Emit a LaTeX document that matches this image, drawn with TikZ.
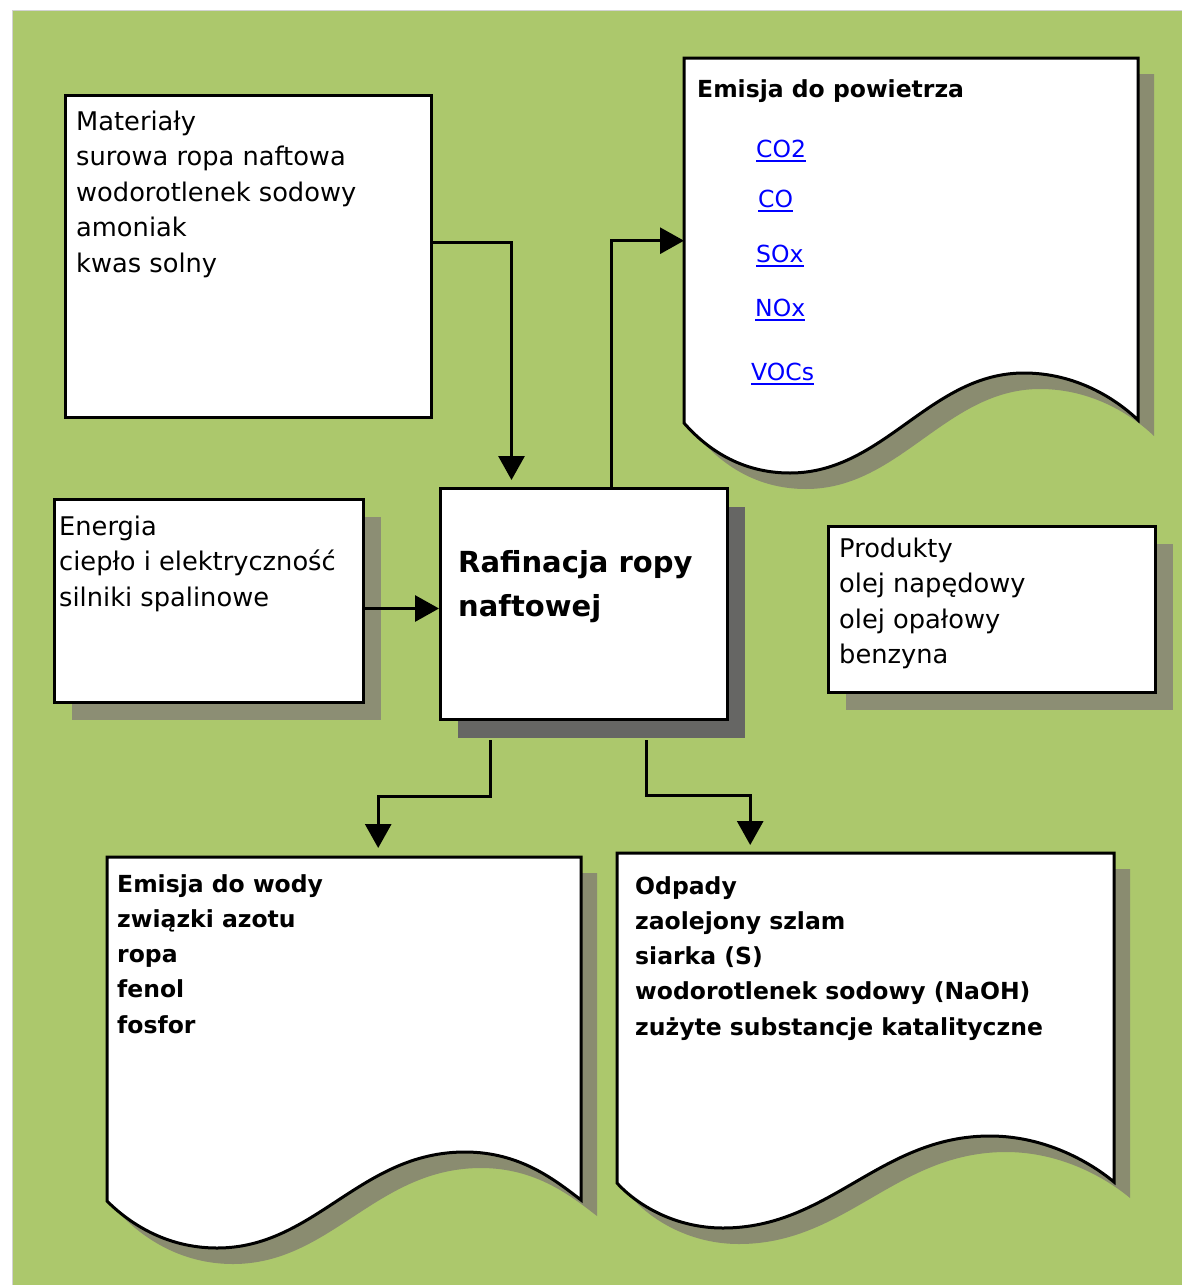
\documentclass[tikz,border=0pt]{standalone}
\usepackage{fontspec}
\setmainfont{DejaVu Sans}
\usetikzlibrary{arrows.meta,shadows}

\definecolor{meadow}{RGB}{172,200,108}
\definecolor{docshade}{RGB}{138,140,112}
\definecolor{boxshade}{RGB}{140,142,116}
\definecolor{coreshade}{RGB}{102,102,100}
\definecolor{linkblue}{RGB}{0,0,255}

\newcommand\regtext{\fontsize{25.7pt}{35.5pt}\selectfont}
\newcommand\boldtext{\fontsize{23.5pt}{35.3pt}\selectfont\bfseries}
\newcommand\titletext{\fontsize{29pt}{44pt}\selectfont\bfseries}
\newcommand\hreftext{\fontsize{23.5pt}{28pt}\selectfont}
% underlined hyperlink-like label
\newcommand\linktext[1]{\setbox0=\hbox{#1}\rlap{\rule[-4.5pt]{\wd0}{2pt}}\box0}
% left-aligned block whose reference point is the first baseline
\newcommand\textlines[1]{\begin{tabular}[t]{@{}l@{}}#1\end{tabular}}

\tikzset{
  box/.style={draw=black, fill=white, line width=3pt, inner sep=0pt, anchor=north west},
  castshadow/.style={drop shadow={shadow xshift=17pt, shadow yshift=-17pt, fill=#1, opacity=1}},
  docframe/.style={inner sep=0pt, anchor=north west, draw=none},
  docshadow/.style={fill=docshade, draw=none},
  docpaper/.style={fill=white, draw=black, line width=3pt, line join=miter},
  flow/.style={line width=3pt, -{Triangle[width=26pt,length=24pt]}},
  regular/.style={anchor=base west, inner sep=0pt, font=\regtext},
  boldline/.style={anchor=base west, inner sep=0pt, font=\boldtext},
  title/.style={anchor=base west, inner sep=0pt, font=\titletext},
  link/.style={anchor=base west, inner sep=0pt, font=\hreftext, text=linkblue},
}

\begin{document}
\begin{tikzpicture}[x=1pt, y=-1pt]
\useasboundingbox (0,0) rectangle (1182,1285);
\fill[white] (0,0) rectangle (1182,1285);
\fill[meadow] (12,10) rectangle (1182,1285);
\draw[gray!35, line width=1pt] (12,1285) -- (12,10) -- (1182,10);

% plain boxes
\node[box, minimum width=366pt, minimum height=322pt] (mat) at (64,94) {};
\node[box, castshadow=boxshade, minimum width=309pt, minimum height=203pt] (en) at (53,498) {};
\node[box, drop shadow={shadow xshift=17pt, shadow yshift=-18pt, fill=coreshade, opacity=1},
      minimum width=287pt, minimum height=231pt] (raf) at (439,487) {};
\node[box, castshadow=boxshade, minimum width=327pt, minimum height=166pt] (prod) at (827,525) {};

% document-shaped boxes (frames used for connections)
\node[docframe, minimum width=454pt, minimum height=365pt] (air) at (684,58) {};
\node[docframe, minimum width=474pt, minimum height=344pt] (water) at (107,857) {};
\node[docframe, minimum width=497pt, minimum height=330pt] (waste) at (617,853) {};

\foreach \s/\d in {docshadow/16, docpaper/0}{
  \path[\s, shift={(\d,\d)}]
    (684,58) -- (1138,58) -- (1138,420)
    .. controls (1115,398) and (1075,373) .. (1024,373)
    .. controls (930,373) and (884,473) .. (790,473)
    .. controls (740,473) and (706,448) .. (684,423) -- cycle;
  \path[\s, shift={(\d,\d)}]
    (107,857) -- (581,857) -- (581,1200)
    .. controls (555,1180) and (520,1152) .. (465,1152)
    .. controls (360,1152) and (315,1248) .. (217,1248)
    .. controls (165,1248) and (128,1222) .. (107,1201) -- cycle;
  \path[\s, shift={(\d,\d)}]
    (617,853) -- (1114,853) -- (1114,1182)
    .. controls (1090,1162) and (1045,1136) .. (990,1136)
    .. controls (880,1136) and (830,1228) .. (723,1228)
    .. controls (675,1228) and (637,1205) .. (617,1183) -- cycle;
}

% connectors
\draw[flow, shorten >=7pt] ([yshift=14pt]mat.east) -| ([xshift=-72.5pt]raf.north);
\draw[flow] ([yshift=-7.5pt]en.east) -- ([yshift=-7.5pt]en.east -| raf.west);
\draw[flow] ([xshift=27.5pt]raf.north) |- (air.west);
\draw[flow, shorten >=9pt] ([xshift=-94pt,yshift=-19pt]raf.south) -- ++(0,56) -| ([xshift=34pt]water.north);
\draw[flow, shorten >=8pt] ([xshift=62.5pt,yshift=-19pt]raf.south) -- ++(0,55) -| ([xshift=-115.5pt]waste.north);

% texts
\node[regular] (mat-text) at (76,130)
  {\textlines{Materiały\\surowa ropa naftowa\\wodorotlenek sodowy\\amoniak\\kwas solny}};
\node[regular] (en-text) at (59,535)
  {\textlines{Energia\\ciepło i elektryczność\\silniki spalinowe}};
\node[regular] (prod-text) at (839,557)
  {\textlines{Produkty\\olej napędowy\\olej opałowy\\benzyna}};
\node[title] (raf-text) at (458,572) {\textlines{Rafinacja ropy\\naftowej}};

\node[boldline] (air-title) at (697,97) {Emisja do powietrza};
\node[link] (co2) at (756,157) {\linktext{CO2}};
\node[link] (co) at (758,207) {\linktext{CO}};
\node[link] (sox) at (756,262) {\linktext{SOx}};
\node[link] (nox) at (755,316) {\linktext{NOx}};
\node[link] (vocs) at (751,380) {\linktext{VOCs}};

\node[boldline] (water-text) at (117,892)
  {\textlines{Emisja do wody\\związki azotu\\ropa\\fenol\\fosfor}};
\node[boldline] (waste-text) at (635,894)
  {\textlines{Odpady\\zaolejony szlam\\siarka (S)\\wodorotlenek sodowy (NaOH)\\zużyte substancje katalityczne}};
\end{tikzpicture}
\end{document}
